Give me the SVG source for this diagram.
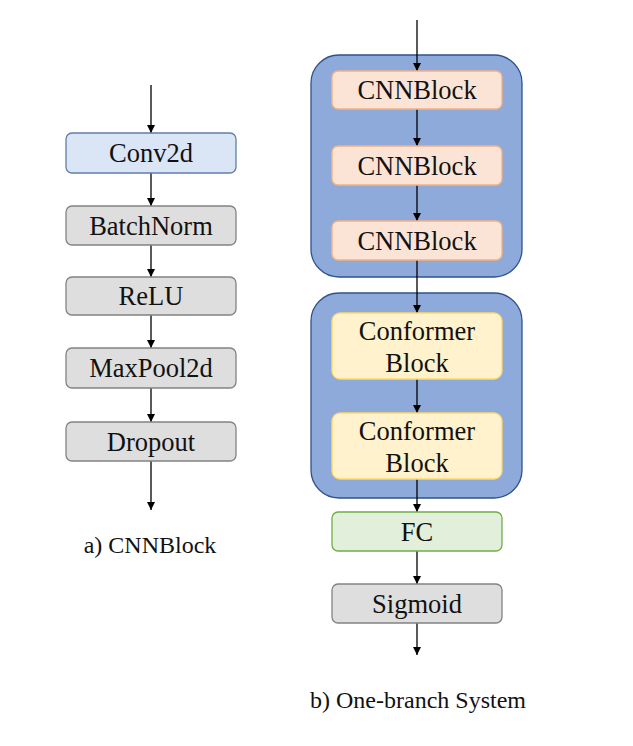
<svg xmlns="http://www.w3.org/2000/svg" width="633" height="746" viewBox="0 0 633 746">
<style>
text{fill:#111;text-anchor:middle}
.lbl{font-size:26.5px}
.cap{font-size:24px}
.gray{fill:#dedede;stroke:#838383;stroke-width:1.3}
.conv{fill:#dae6f6;stroke:#5f7fa8;stroke-width:1.3}
.cont{fill:#8eaadb;stroke:#2f528f;stroke-width:1.3}
.cnn{fill:#fbe4d5;stroke:#f4b183;stroke-width:1.3}
.conf{fill:#fff2cc;stroke:#ffd966;stroke-width:1.3}
.fc{fill:#e2efda;stroke:#70ad47;stroke-width:1.3}
.arr{stroke:#000;stroke-width:1.3;fill:none;marker-end:url(#ah)}
</style>
<defs>
<marker id="ah" viewBox="0 0 10 10" refX="10" refY="5" markerWidth="8" markerHeight="8" markerUnits="userSpaceOnUse" orient="auto">
<path d="M0,0 L10,5 L0,10 z" fill="#000"/>
</marker>
</defs>
<rect width="633" height="746" fill="#fff"/>
<g id="containers">
<rect id="cnn-group" class="cont" x="311" y="55" width="211" height="222" rx="28"/>
<rect id="conf-group" class="cont" x="311" y="293" width="211" height="205" rx="28"/>
</g>
<g id="connectors">
<line class="arr" x1="151" y1="85" x2="151" y2="133"/>
<line class="arr" x1="151" y1="173" x2="151" y2="206"/>
<line class="arr" x1="151" y1="245" x2="151" y2="277"/>
<line class="arr" x1="151" y1="315" x2="151" y2="348"/>
<line class="arr" x1="151" y1="388" x2="151" y2="422"/>
<line class="arr" x1="151" y1="461" x2="151" y2="510"/>
<line class="arr" x1="417" y1="20" x2="417" y2="71"/>
<line class="arr" x1="417" y1="109" x2="417" y2="146"/>
<line class="arr" x1="417" y1="185" x2="417" y2="221"/>
<line class="arr" x1="417" y1="260" x2="417" y2="313"/>
<line class="arr" x1="417" y1="379" x2="417" y2="413"/>
<line class="arr" x1="417" y1="479" x2="417" y2="512"/>
<line class="arr" x1="417" y1="551" x2="417" y2="584"/>
<line class="arr" x1="417" y1="623" x2="417" y2="655"/>
</g>
<g font-family="'Liberation Serif', 'Times New Roman', 'DejaVu Serif', serif">
<g id="conv2d"><rect class="conv" x="66" y="133" width="170" height="40" rx="6"/><text class="lbl" x="151" y="162">Conv2d</text></g>
<g id="batchnorm"><rect class="gray" x="66" y="206" width="170" height="39" rx="6"/><text class="lbl" x="151" y="235">BatchNorm</text></g>
<g id="relu"><rect class="gray" x="66" y="277" width="170" height="38" rx="6"/><text class="lbl" x="151" y="305">ReLU</text></g>
<g id="maxpool"><rect class="gray" x="66" y="348" width="170" height="40" rx="6"/><text class="lbl" x="151" y="377">MaxPool2d</text></g>
<g id="dropout"><rect class="gray" x="66" y="422" width="170" height="39" rx="6"/><text class="lbl" x="151" y="451">Dropout</text></g>
<g id="caption-a"><text class="cap" x="150" y="553">a) CNNBlock</text></g>
<g id="cnnblock1"><rect class="cnn" x="332" y="71" width="170" height="38" rx="6"/><text class="lbl" x="417" y="99">CNNBlock</text></g>
<g id="cnnblock2"><rect class="cnn" x="332" y="146" width="170" height="39" rx="6"/><text class="lbl" x="417" y="175">CNNBlock</text></g>
<g id="cnnblock3"><rect class="cnn" x="332" y="221" width="170" height="39" rx="6"/><text class="lbl" x="417" y="250">CNNBlock</text></g>
<g id="conformer1"><rect class="conf" x="332" y="313" width="170" height="66" rx="8"/><text class="lbl" x="417" y="340">Conformer</text><text class="lbl" x="417" y="372">Block</text></g>
<g id="conformer2"><rect class="conf" x="332" y="413" width="170" height="66" rx="8"/><text class="lbl" x="417" y="440">Conformer</text><text class="lbl" x="417" y="472">Block</text></g>
<g id="fc"><rect class="fc" x="332" y="512" width="170" height="39" rx="6"/><text class="lbl" x="417" y="541">FC</text></g>
<g id="sigmoid"><rect class="gray" x="332" y="584" width="170" height="39" rx="6"/><text class="lbl" x="417" y="613">Sigmoid</text></g>
<g id="caption-b"><text class="cap" x="418" y="708">b) One-branch System</text></g>
</g>
</svg>
